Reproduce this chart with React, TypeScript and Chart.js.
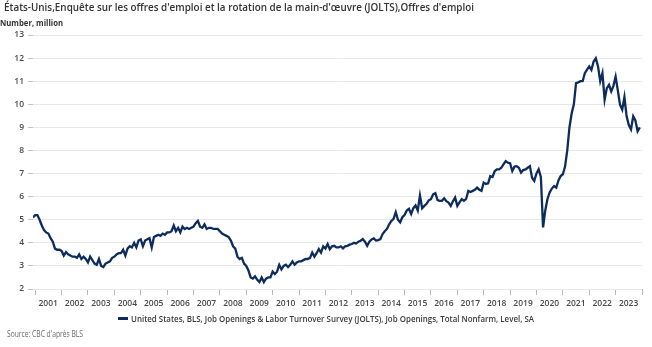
import React, { useEffect, useRef } from 'react';
import { Chart, registerables } from 'chart.js';

Chart.register(...registerables);

// ---------- texts ----------
const TITLE = "États-Unis,Enquête sur les offres d'emploi et la rotation de la main-d'œuvre (JOLTS),Offres d'emploi";
const UNIT = 'Number, million';
const SERIES_NAME = 'United States, BLS, Job Openings & Labor Turnover Survey (JOLTS), Job Openings, Total Nonfarm, Level, SA';
const SOURCE = "Source: CBC d'après BLS";

// ---------- axis labels ----------
const yearLabels = ['2001', '2002', '2003', '2004', '2005', '2006', '2007', '2008', '2009', '2010', '2011', '2012',
  '2013', '2014', '2015', '2016', '2017', '2018', '2019', '2020', '2021', '2022', '2023'];
const yMin = 2;
const yMax = 13;

// ---------- monthly job openings, millions (Dec 2000 .. Dec 2023) ----------
const v2000 = [5.1];
const v2001 = [5.2, 5.2, 5.0, 4.75, 4.55, 4.45, 4.4, 4.2, 4.05, 3.75, 3.7, 3.7];
const v2002 = [3.65, 3.45, 3.6, 3.5, 3.45, 3.4, 3.4, 3.35, 3.5, 3.3, 3.4, 3.3];
const v2003 = [3.15, 3.4, 3.25, 3.1, 3.05, 3.3, 3.0, 2.95, 3.1, 3.15, 3.2, 3.35];
const v2004 = [3.4, 3.5, 3.55, 3.55, 3.7, 3.45, 3.75, 3.85, 3.8, 4.0, 3.8, 4.1];
const v2005 = [4.15, 3.85, 4.1, 4.15, 4.2, 3.8, 4.25, 4.3, 4.35, 4.3, 4.4, 4.35];
const v2006 = [4.45, 4.45, 4.5, 4.75, 4.5, 4.65, 4.45, 4.7, 4.6, 4.65, 4.6, 4.65];
const v2007 = [4.7, 4.85, 4.95, 4.7, 4.65, 4.8, 4.6, 4.65, 4.65, 4.6, 4.6, 4.6];
const v2008 = [4.5, 4.4, 4.35, 4.3, 4.25, 4.1, 3.85, 3.75, 3.4, 3.3, 3.35, 3.1];
const v2009 = [3.0, 2.8, 2.5, 2.45, 2.55, 2.4, 2.3, 2.5, 2.3, 2.45, 2.5, 2.5];
const v2010 = [2.75, 2.65, 2.75, 3.05, 2.85, 3.0, 3.05, 2.95, 3.05, 3.2, 3.05, 3.15];
const v2011 = [3.2, 3.2, 3.25, 3.3, 3.3, 3.35, 3.58, 3.4, 3.55, 3.73, 3.58, 3.85];
const v2012 = [3.75, 3.95, 3.72, 3.85, 3.87, 3.8, 3.8, 3.85, 3.76, 3.85, 3.87, 3.92];
const v2013 = [3.95, 4.0, 3.97, 4.05, 4.09, 4.16, 4.05, 3.87, 4.05, 4.15, 4.19, 4.1];
const v2014 = [4.12, 4.16, 4.38, 4.5, 4.6, 4.8, 4.95, 5.04, 5.33, 5.0, 4.89, 5.11];
const v2015 = [5.2, 5.4, 5.47, 5.25, 5.5, 5.62, 5.4, 6.05, 5.5, 5.6, 5.69, 5.84];
const v2016 = [5.89, 6.1, 6.15, 5.85, 5.82, 5.82, 5.93, 5.8, 5.74, 5.6, 5.8, 5.96];
const v2017 = [5.6, 5.75, 5.89, 5.82, 5.9, 6.25, 6.2, 6.25, 6.3, 6.39, 6.3, 6.25];
const v2018 = [6.61, 6.55, 6.58, 6.89, 6.85, 7.1, 7.18, 7.18, 7.25, 7.4, 7.54, 7.47];
const v2019 = [7.45, 7.11, 7.3, 7.32, 7.25, 7.04, 7.15, 7.18, 7.25, 7.32, 6.82, 6.68];
const v2020 = [7.0, 7.18, 6.85, 4.67, 5.4, 5.9, 6.18, 6.35, 6.46, 6.39, 6.7, 6.89];
const v2021 = [6.97, 7.3, 8.0, 9.0, 9.6, 10.0, 10.92, 10.95, 11.0, 11.0, 11.35, 11.5];
const v2022 = [11.64, 11.49, 11.85, 11.99, 11.64, 11.0, 11.35, 10.2, 10.7, 10.84, 10.56, 10.8];
const v2023 = [11.2, 10.6, 9.98, 9.77, 10.31, 9.48, 9.1, 8.91, 9.48, 9.3, 8.83, 9.0];

const allValues = [
  ...v2000, ...v2001, ...v2002, ...v2003, ...v2004, ...v2005, ...v2006, ...v2007, ...v2008,
  ...v2009, ...v2010, ...v2011, ...v2012, ...v2013, ...v2014, ...v2015, ...v2016, ...v2017,
  ...v2018, ...v2019, ...v2020, ...v2021, ...v2022, ...v2023,
];
// x = months since Jan 2001 (Dec 2000 = -1)
const points = allValues.map((v, i) => ({ x: i - 1, y: v }));
const xEnd = yearLabels.length * 12; // Jan 2024 boundary

const LINE_COLOR = '#0c2c5e';
const FONT = '"Open Sans", "Noto Sans", sans-serif';

const measureCtx = typeof document !== 'undefined' ? document.createElement('canvas').getContext('2d') : null;
function measure(text: string, font: string): number {
  if (!measureCtx) return 1;
  measureCtx.font = font;
  return measureCtx.measureText(text).width || 1;
}

function FitText(props: { text: string; left: number; centerY: number; width: number; size: number; weight: number; color: string }) {
  const { text, left, centerY, width, size, weight, color } = props;
  const lh = Math.round(size * 1.4);
  const natural = measure(text, `${weight} ${size}px ${FONT}`);
  const sx = width / natural;
  return (
    <div
      style={{
        position: 'absolute',
        left,
        top: centerY - lh / 2,
        height: lh,
        lineHeight: `${lh}px`,
        fontFamily: FONT,
        fontSize: size,
        fontWeight: weight,
        color,
        whiteSpace: 'nowrap',
        transform: `scaleX(${sx})`,
        transformOrigin: '0 50%',
      }}
    >
      {text}
    </div>
  );
}

export default function App() {
  const canvasRef = useRef<HTMLCanvasElement>(null);

  useEffect(() => {
    if (!canvasRef.current) return;
    const chart = new Chart(canvasRef.current, {
      type: 'line',
      data: {
        datasets: [
          {
            label: SERIES_NAME,
            data: points,
            borderColor: LINE_COLOR,
            backgroundColor: LINE_COLOR,
            borderWidth: 2.3,
            pointRadius: 0,
            tension: 0,
            fill: false,
          },
        ],
      },
      options: {
        responsive: false,
        animation: false,
        devicePixelRatio: 1,
        layout: { padding: { left: 0, right: 10, top: 35, bottom: 38 } },
        plugins: {
          legend: { display: false },
          title: { display: false },
          tooltip: { enabled: false },
        },
        scales: {
          x: {
            type: 'linear',
            min: -1,
            max: xEnd,
            border: { display: false },
            grid: {
              display: true,
              drawOnChartArea: false,
              drawTicks: true,
              tickLength: 6,
              tickColor: '#b8b8b8',
              tickWidth: 1,
            },
            afterBuildTicks: (axis: any) => {
              const t = [];
              for (let v = 0; v <= xEnd; v += 12) t.push({ value: v });
              axis.ticks = t;
            },
            afterFit: (axis: any) => {
              axis.height = 20;
            },
            ticks: {
              autoSkip: false,
              maxRotation: 0,
              minRotation: 0,
              labelOffset: 13,
              padding: 3,
              color: '#4a4a4a',
              font: { family: FONT, size: 8.5, weight: 600 },
              callback: (value: any) => {
                const idx = Math.round(Number(value) / 12);
                return idx < yearLabels.length ? yearLabels[idx] : '';
              },
            },
          },
          y: {
            min: yMin,
            max: yMax,
            border: { display: false },
            grid: {
              color: '#e8e8e8',
              lineWidth: 1,
              drawTicks: true,
              tickLength: 5,
              tickColor: '#c4c4c4',
            },
            afterFit: (axis: any) => {
              axis.width = 33;
            },
            ticks: {
              stepSize: 1,
              padding: 4,
              color: '#4a4a4a',
              font: { family: FONT, size: 8.5, weight: 600 },
              callback: (value: any) => String(value),
            },
          },
        },
      },
    });
    return () => chart.destroy();
  }, []);

  return (
    <div style={{ position: 'absolute', left: 0, top: 0, width: 652, height: 347, overflow: 'hidden', background: '#ffffff' }}>
      <canvas ref={canvasRef} width={652} height={347} style={{ position: 'absolute', left: 0, top: 0, width: 652, height: 347 }} />
      <FitText text={TITLE} left={4} centerY={7.5} width={470} size={10.5} weight={600} color="#333333" />
      <FitText text={UNIT} left={0} centerY={22.5} width={63} size={9.2} weight={700} color="#333333" />
      <div style={{ position: 'absolute', left: 118, top: 317, width: 10, height: 3, background: LINE_COLOR }} />
      <FitText text={SERIES_NAME} left={131} centerY={318.5} width={403} size={9.2} weight={600} color="#3a3a3a" />
      <FitText text={SOURCE} left={7} centerY={333.3} width={76} size={8.2} weight={400} color="#6a6a6a" />
    </div>
  );
}
